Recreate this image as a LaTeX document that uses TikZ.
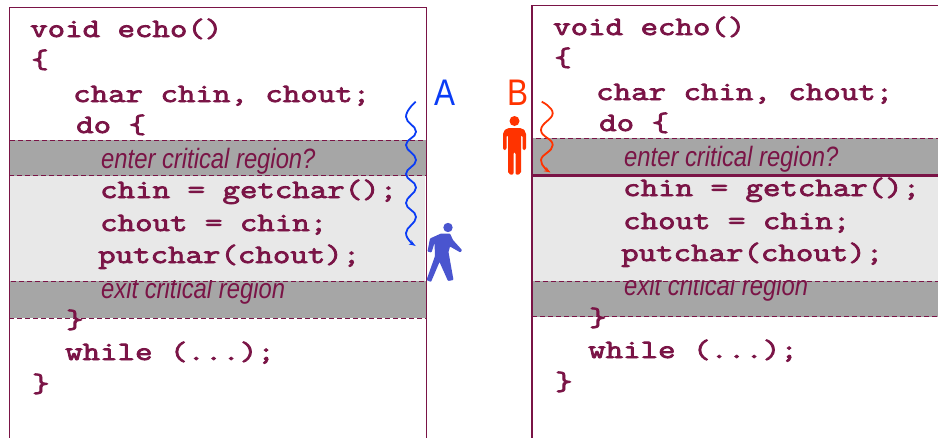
\documentclass[tikz,border=0pt]{standalone}
\usepackage{fontspec}
\usetikzlibrary{arrows.meta}
\newfontfamily\codefont[FakeStretch=1.28,FakeBold=3]{Latin Modern Mono}
\newfontfamily\notefont[FakeStretch=0.85]{Liberation Sans}
\definecolor{maroon}{HTML}{7A1446}
\definecolor{bandgray}{HTML}{A6A6A6}
\definecolor{bandlight}{HTML}{E8E8E8}
\definecolor{runblue}{HTML}{0A3CF5}
\definecolor{walkblue}{HTML}{4A55CF}
\definecolor{runred}{HTML}{FF3300}
\tikzset{
	code/.style={anchor=base west, inner sep=0pt, text=maroon, font=\codefont\fontsize{26.5}{27}\selectfont},
	note/.style={anchor=base west, inner sep=0pt, text=maroon, font=\notefont\fontsize{28}{28}\selectfont\itshape},
	tag/.style={anchor=base west, inner sep=0pt, font=\notefont\fontsize{37}{37}\selectfont},
	band/.style={rectangle, anchor=north west, inner sep=0pt, draw=maroon, dash pattern=on 5pt off 3pt, line width=1.2pt, fill=bandgray, minimum width=#1},
	frame/.style={rectangle, anchor=north west, draw=maroon, line width=1.3pt, minimum height=440pt, minimum width=#1},
	wiggle/.style={line width=1.8pt, -{Stealth[length=6pt,width=5pt]}, smooth, tension=0.8},
}
\begin{document}
\begin{tikzpicture}[x=1pt,y=-1pt]
		\useasboundingbox (0,0) rectangle (938,437);

		% left column
		\node[rectangle, anchor=north west, fill=bandlight, minimum width=416pt, minimum height=106pt](midL) at (9,175){};
		\node[band=416.8pt, minimum height=35.5pt](enterBoxL) at (8.8,139.5){};
		\node[band=416.8pt, minimum height=37pt](exitBoxL) at (8.8,280.5){};
		\node[frame=416.8pt](frameL) at (8.8,6.5){};

		\node[code](voidL) at (30,37){void echo()};
		\node[code](openL) at (31,68){\{};
		\node[code](charL) at (73,102){char chin, chout;};
		\node[code](doL) at (76,133){do \{};
		\node[note](enterL) at (101,168){enter critical region?};
		\node[code](chinL) at (100,198){chin = getchar();};
		\node[code](choutL) at (100,231){chout = chin;};
		\node[code](putL) at (98,263){putchar(chout);};
		\begin{scope}
			\clip (exitBoxL.north west) rectangle (exitBoxL.south east);
			\node[note](exitL) at (101,298){exit critical region};
		\end{scope}
		\node[code](closeL) at (66,328){\}};
		\node[code](whileL) at (65,360){while (...);};
		\node[code](endL) at (32,392){\}};

		% right column
		\node[rectangle, anchor=north west, fill=bandlight, minimum width=410pt, minimum height=107pt](midR) at (532,174){};
		\node[band=410pt, minimum height=37pt](enterBoxR) at (531.4,137.5){};
		\node[band=410pt, minimum height=35.5pt](exitBoxR) at (531.4,280.5){};
		\node[frame=410pt](frameR) at (531.4,4.5){};
		\draw [maroon, line width=3.5pt] (enterBoxR.south west) -- (enterBoxR.south east);

		\node[code](voidR) at (553,35){void echo()};
		\node[code](openR) at (554,66){\{};
		\node[code](charR) at (596,100){char chin, chout;};
		\node[code](doR) at (599,131){do \{};
		\node[note](enterR) at (624,166){enter critical region?};
		\node[code](chinR) at (623,196){chin = getchar();};
		\node[code](choutR) at (623,229){chout = chin;};
		\node[code](putR) at (621,261){putchar(chout);};
		\begin{scope}
			\clip (exitBoxR.north west) rectangle (exitBoxR.south east);
			\node[note](exitR) at (624,295.5){exit critical region};
		\end{scope}
		\node[code](closeR) at (589,326){\}};
		\node[code](whileR) at (588,358){while (...);};
		\node[code](endR) at (555,390){\}};

		% threads
		\node[tag, text=runblue](tagA) at (434,105){A};
		\node[tag, text=runred](tagB) at (507,105){B};

		\draw [wiggle, runblue] plot coordinates {(415.7,101.7) (406,116.7) (416,131.7) (406,145) (416,160) (406,174) (416,187.5) (406,203) (416,217) (406,233) (415,245.7)};
		\draw [wiggle, runred] plot coordinates {(541.7,101.7) (552.7,113.3) (541,130) (552.7,145) (541,160) (550,172.3)};

		% walking figure
		\fill[walkblue] (448,227.5) circle (4.7);
		\fill[walkblue, rounded corners=0.8pt] (430,238.5) -- (441,233.5) -- (450,233.5) -- (453,240) -- (462,250) -- (460.5,252.5) -- (450,246.5) -- (448.5,252) -- (453.5,280) -- (448,281) -- (439.5,262) -- (431,282) -- (426.5,280) -- (435,256) -- (434.5,243) -- (431.5,252.5) -- (427.5,251.5) -- cycle;

		% standing figure
		\fill[runred] (514.5,121) circle (5);
		\fill[runred, rounded corners=2pt] (503,132) -- (507,128) -- (522,128) -- (526,132) -- (526,150) -- (522.5,150) -- (522.5,135) -- (521,135) -- (521,174) -- (515.5,175) -- (515.5,152) -- (513.5,152) -- (513.5,175) -- (508,174) -- (508,135) -- (506.5,135) -- (506.5,150) -- (503,150) -- cycle;

\end{tikzpicture}
\end{document}
